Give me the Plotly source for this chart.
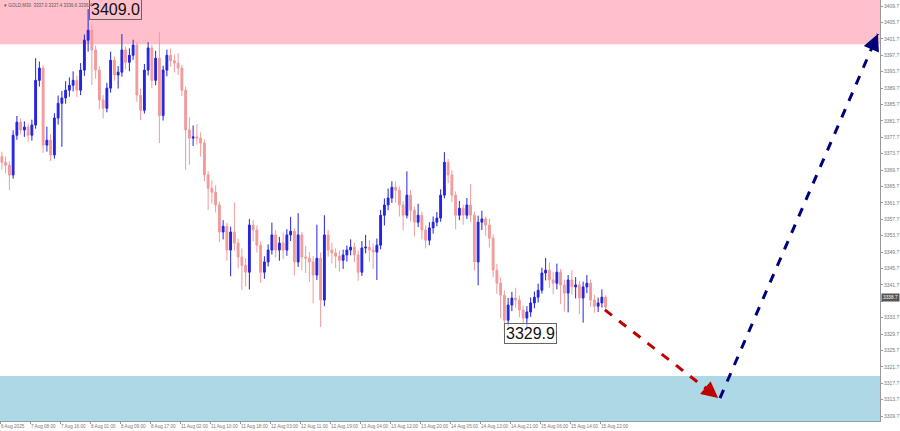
import plotly.graph_objects as go

opens = [3373.0, 3371.6, 3370.9, 3368.5, 3378.2, 3381.4, 3379.5, 3380.2, 3378.2, 3380.7,
 3391.6, 3394.6, 3375.8, 3377.0, 3373.4, 3382.4, 3386.0, 3387.3, 3389.2, 3390.4,
 3391.6, 3389.2, 3394.1, 3401.4, 3403.8, 3399.0, 3394.1, 3386.8, 3384.8, 3389.7,
 3396.5, 3392.9, 3393.6, 3399.0, 3396.0, 3397.7, 3400.2, 3388.0, 3384.3, 3394.1,
 3399.5, 3391.6, 3397.0, 3383.0, 3394.1, 3397.7, 3396.4, 3395.8, 3394.6, 3389.2,
 3379.5, 3377.5, 3377.8, 3377.5, 3376.3, 3368.5, 3365.3, 3364.3, 3361.2, 3354.6,
 3356.0, 3350.2, 3354.6, 3351.9, 3348.5, 3346.5, 3344.8, 3356.3, 3355.1, 3351.4,
 3344.8, 3347.3, 3350.2, 3353.9, 3350.2, 3351.9, 3350.2, 3353.9, 3354.8, 3347.3,
 3353.9, 3348.5, 3348.2, 3347.3, 3344.1, 3348.2, 3338.0, 3353.9, 3350.2, 3349.5,
 3348.7, 3347.7, 3349.0, 3350.2, 3350.9, 3349.0, 3344.8, 3350.7, 3350.9, 3350.2,
 3349.7, 3351.4, 3358.7, 3361.2, 3362.9, 3365.5, 3364.8, 3361.2, 3358.7, 3363.6,
 3359.9, 3357.0, 3358.7, 3355.1, 3352.6, 3355.6, 3357.0, 3358.0, 3363.6, 3371.6,
 3368.5, 3363.6, 3358.7, 3360.4, 3358.7, 3361.2, 3358.7, 3347.3, 3357.0, 3357.8,
 3356.3, 3353.1, 3345.3, 3342.1, 3339.2, 3333.1, 3336.8, 3338.5, 3338.0, 3335.6,
 3333.6, 3335.1, 3337.3, 3338.7, 3340.4, 3344.6, 3345.3, 3342.9, 3342.1, 3344.8,
 3341.7, 3339.7, 3342.9, 3341.2, 3341.7, 3338.5, 3341.2, 3342.1, 3338.0, 3336.5,
 3337.3, 3338.7]

closes = [3371.6, 3370.9, 3368.5, 3378.2, 3381.4, 3379.5, 3380.2, 3378.2, 3380.7, 3391.6,
 3394.6, 3375.8, 3377.0, 3373.4, 3382.4, 3386.0, 3387.3, 3389.2, 3390.4, 3391.6,
 3389.2, 3394.1, 3401.4, 3403.8, 3399.0, 3394.1, 3386.8, 3384.8, 3389.7, 3396.5,
 3392.9, 3393.6, 3399.0, 3396.0, 3397.7, 3400.2, 3388.0, 3384.3, 3394.1, 3399.5,
 3391.6, 3397.0, 3383.0, 3394.1, 3397.7, 3396.4, 3395.8, 3394.6, 3389.2, 3379.5,
 3377.5, 3377.8, 3377.5, 3376.3, 3368.5, 3365.3, 3364.3, 3361.2, 3354.6, 3356.0,
 3350.2, 3354.6, 3351.9, 3348.5, 3346.5, 3344.8, 3356.3, 3355.1, 3351.4, 3344.8,
 3347.3, 3350.2, 3353.9, 3350.2, 3351.9, 3350.2, 3353.9, 3354.8, 3347.3, 3353.9,
 3348.5, 3348.2, 3347.3, 3344.1, 3348.2, 3338.0, 3353.9, 3350.2, 3349.5, 3348.7,
 3347.7, 3349.0, 3350.2, 3350.9, 3349.0, 3344.8, 3350.7, 3350.9, 3350.2, 3349.7,
 3351.4, 3358.7, 3361.2, 3362.9, 3365.5, 3364.8, 3361.2, 3358.7, 3363.6, 3359.9,
 3357.0, 3358.7, 3355.1, 3352.6, 3355.6, 3357.0, 3358.0, 3363.6, 3371.6, 3368.5,
 3363.6, 3358.7, 3360.4, 3358.7, 3361.2, 3358.7, 3347.3, 3357.0, 3357.8, 3356.3,
 3353.1, 3345.3, 3342.1, 3339.2, 3333.1, 3336.8, 3338.5, 3338.0, 3335.6, 3333.6,
 3335.1, 3337.3, 3338.7, 3340.4, 3344.6, 3345.3, 3342.9, 3342.1, 3344.8, 3341.7,
 3339.7, 3342.9, 3341.2, 3341.7, 3338.5, 3341.2, 3342.1, 3338.0, 3336.5, 3337.3,
 3338.7, 3336.3]

highs = [3374.2, 3373.0, 3371.8, 3379.4, 3382.9, 3382.3, 3381.6, 3381.1, 3382.0, 3397.0,
 3396.2, 3395.3, 3380.3, 3378.5, 3383.6, 3387.9, 3389.0, 3391.4, 3392.3, 3393.8,
 3392.7, 3395.8, 3402.8, 3409.0, 3405.2, 3400.1, 3395.0, 3388.0, 3391.0, 3398.6,
 3397.4, 3395.1, 3402.9, 3399.9, 3399.4, 3401.5, 3401.0, 3389.6, 3395.6, 3400.9,
 3400.3, 3398.8, 3403.5, 3395.2, 3399.1, 3399.3, 3397.9, 3398.2, 3395.4, 3390.1,
 3382.6, 3380.6, 3380.9, 3378.9, 3377.2, 3369.4, 3367.2, 3366.0, 3362.0, 3357.5,
 3356.9, 3355.9, 3361.8, 3353.0, 3350.6, 3348.2, 3357.8, 3357.6, 3356.2, 3352.3,
 3348.7, 3351.6, 3356.9, 3355.0, 3353.4, 3354.5, 3355.3, 3358.3, 3355.5, 3359.2,
 3354.6, 3351.2, 3349.7, 3348.8, 3356.4, 3349.6, 3358.7, 3355.1, 3352.0, 3350.6,
 3350.1, 3350.3, 3351.3, 3352.8, 3352.0, 3350.1, 3352.4, 3353.9, 3352.7, 3351.8,
 3353.0, 3360.0, 3362.8, 3365.2, 3367.0, 3366.9, 3365.7, 3362.1, 3369.4, 3364.9,
 3360.8, 3361.5, 3359.6, 3356.2, 3357.0, 3358.4, 3359.5, 3365.0, 3374.1, 3372.4,
 3369.7, 3364.5, 3362.2, 3361.3, 3362.9, 3366.3, 3359.6, 3358.6, 3359.8, 3358.4,
 3357.9, 3354.0, 3346.8, 3343.5, 3340.4, 3338.5, 3340.0, 3341.0, 3339.1, 3336.7,
 3336.5, 3338.6, 3340.1, 3342.0, 3345.9, 3348.3, 3347.2, 3344.8, 3346.9, 3345.6,
 3343.0, 3344.1, 3345.3, 3343.6, 3342.6, 3342.5, 3344.1, 3343.0, 3339.3, 3338.6,
 3340.6, 3339.2]

lows = [3369.8, 3368.9, 3364.8, 3367.6, 3377.1, 3378.4, 3377.8, 3376.6, 3376.9, 3379.8,
 3390.1, 3373.9, 3374.2, 3371.9, 3372.5, 3380.8, 3375.4, 3385.9, 3387.6, 3388.9,
 3387.5, 3388.0, 3392.7, 3398.6, 3390.5, 3392.0, 3384.5, 3382.3, 3383.8, 3388.6,
 3391.5, 3389.6, 3392.5, 3394.3, 3393.8, 3396.6, 3386.4, 3381.9, 3383.5, 3392.8,
 3389.7, 3390.4, 3376.3, 3381.8, 3392.6, 3394.9, 3393.5, 3392.9, 3387.8, 3369.8,
 3371.0, 3375.6, 3375.9, 3373.0, 3367.0, 3360.0, 3361.5, 3359.4, 3352.1, 3352.8,
 3347.6, 3343.8, 3350.1, 3345.7, 3340.5, 3341.3, 3340.6, 3352.4, 3349.6, 3342.2,
 3343.2, 3346.2, 3349.1, 3348.4, 3347.6, 3348.0, 3348.8, 3352.4, 3344.0, 3346.1,
 3345.3, 3344.6, 3342.4, 3337.2, 3342.9, 3331.4, 3336.5, 3348.6, 3346.9, 3345.8,
 3344.9, 3345.6, 3347.4, 3348.9, 3347.2, 3342.7, 3343.9, 3349.4, 3347.3, 3345.6,
 3342.9, 3350.4, 3356.2, 3359.9, 3361.7, 3361.8, 3358.4, 3355.0, 3357.9, 3357.2,
 3353.5, 3355.8, 3352.8, 3350.6, 3351.4, 3354.2, 3356.0, 3357.1, 3362.8, 3366.5,
 3361.9, 3355.3, 3357.5, 3356.4, 3357.8, 3357.1, 3345.2, 3341.6, 3355.1, 3353.7,
 3350.8, 3343.6, 3339.5, 3333.6, 3329.9, 3331.6, 3335.3, 3336.1, 3333.8, 3331.5,
 3331.2, 3333.9, 3336.0, 3337.4, 3339.6, 3342.8, 3341.0, 3339.4, 3340.6, 3337.0,
 3335.2, 3335.0, 3339.3, 3338.4, 3334.6, 3332.5, 3339.7, 3336.4, 3334.9, 3335.1,
 3336.2, 3335.6]

bar_index = list(range(len(closes)))

time_labels = ["6 Aug 2025", "7 Aug 08:00", "7 Aug 16:00", "8 Aug 01:00", "8 Aug 09:00",
               "8 Aug 17:00", "11 Aug 02:00", "11 Aug 10:00", "11 Aug 18:00", "12 Aug 03:00",
               "12 Aug 11:00", "12 Aug 19:00", "13 Aug 04:00", "13 Aug 12:00", "13 Aug 20:00",
               "14 Aug 05:00", "14 Aug 13:00", "14 Aug 21:00", "15 Aug 06:00", "15 Aug 14:00",
               "15 Aug 22:00"]
time_label_bars = [-0.5 + 8 * k for k in range(len(time_labels))]

price_ticks = [3309.7 + 4 * k for k in range(26)]
current_price = 3338.7
# the tick hidden under the current-price box in the reference is left blank
price_tick_text = ["" if abs(v - 3337.7) < 0.01 else f"{v:.1f}" for v in price_ticks]

sell_zone = [3400.4, 3415.0]
buy_zone = [3300.0, 3319.5]

forecast_down_x = [160.8, 191.0]
forecast_down_y = [3335.6, 3314.1]
forecast_up_x = [191.5, 233.6]
forecast_up_y = [3314.1, 3402.9]

high_label = 3409.0
low_label = 3329.9

fig = go.Figure()

fig.add_trace(go.Candlestick(
    x=bar_index, open=opens, high=highs, low=lows, close=closes,
    increasing=dict(line=dict(color="#2424e0", width=1), fillcolor="#2424e0"),
    decreasing=dict(line=dict(color="#f29a9a", width=1), fillcolor="#f29a9a"),
    whiskerwidth=0, showlegend=False, hoverinfo="skip"))

fig.add_trace(go.Scatter(x=forecast_down_x, y=forecast_down_y, mode="lines",
                         line=dict(color="#c00000", width=3, dash="dash"),
                         showlegend=False, hoverinfo="skip"))
fig.add_trace(go.Scatter(x=forecast_up_x, y=forecast_up_y, mode="lines",
                         line=dict(color="#00007a", width=3, dash="dash"),
                         showlegend=False, hoverinfo="skip"))

shapes = [
    dict(type="rect", xref="paper", x0=0, x1=1, yref="y", y0=sell_zone[0], y1=sell_zone[1],
         fillcolor="#ffc0cb", line=dict(width=0), layer="below"),
    dict(type="rect", xref="paper", x0=0, x1=1, yref="y", y0=buy_zone[0], y1=buy_zone[1],
         fillcolor="#add8e6", line=dict(width=0), layer="below"),
]

annotations = [
    dict(x=forecast_down_x[1], y=forecast_down_y[1], ax=forecast_down_x[1] - 4, ay=forecast_down_y[1] + 3,
         xref="x", yref="y", axref="x", ayref="y", showarrow=True, arrowhead=2, arrowsize=1.1,
         arrowwidth=3, arrowcolor="#c00000", text=""),
    dict(x=forecast_up_x[1], y=forecast_up_y[1], ax=forecast_up_x[1] - 1.6, ay=forecast_up_y[1] - 3.4,
         xref="x", yref="y", axref="x", ayref="y", showarrow=True, arrowhead=2, arrowsize=1.1,
         arrowwidth=3, arrowcolor="#00007a", text=""),
    dict(x=23.3, y=high_label, xref="x", yref="y", text=f"{high_label:.1f}", showarrow=False,
         xanchor="left", yanchor="middle", font=dict(family="Arial, Liberation Sans", size=16, color="#111"),
         bordercolor="#666", borderwidth=1, borderpad=1, bgcolor="rgba(255,255,255,0)"),
    dict(x=133.8, y=low_label, xref="x", yref="y", text=f"{low_label:.1f}", showarrow=False,
         xanchor="left", yanchor="middle", font=dict(family="Arial, Liberation Sans", size=16, color="#111"),
         bordercolor="#666", borderwidth=1, borderpad=1, bgcolor="rgba(255,255,255,0.6)"),
    dict(x=1.0, y=current_price, xref="paper", yref="y", text=f"{current_price:.1f}", showarrow=False,
         xanchor="left", yanchor="middle", xshift=1, font=dict(family="Arial", size=4.8, color="#ffffff"),
         bgcolor="#555555", borderpad=1),
    dict(x=0.002, y=0.998, xref="paper", yref="paper", text="▾ GOLD,M30  3337.0 3337.4 3336.6 3336.4",
         showarrow=False, xanchor="left", yanchor="top", font=dict(family="Arial", size=4.5, color="#555")),
]

fig.update_layout(
    width=900, height=431,
    margin=dict(l=0, r=20, t=0, b=10, autoexpand=False),
    paper_bgcolor="white", plot_bgcolor="white",
    shapes=shapes, annotations=annotations,
    xaxis=dict(range=[-0.5, -0.5 + 880 / 3.75], rangeslider=dict(visible=False), automargin=False,
               tickmode="array", tickvals=time_label_bars, ticktext=time_labels, tickangle=0,
               ticklabelposition="outside right", ticks="outside", ticklen=2, tickcolor="#999",
               tickfont=dict(family="Arial", size=4.6, color="#777"),
               showgrid=False, zeroline=False, showline=True, linecolor="#999", linewidth=1, mirror=True),
    yaxis=dict(range=[3308.5, 3411.2], side="right", tickmode="array", tickvals=price_ticks,
               ticktext=price_tick_text, ticks="outside", ticklen=2, tickcolor="#999", automargin=False,
               tickfont=dict(family="Arial", size=5, color="#777"),
               showgrid=False, zeroline=False, showline=True, linecolor="#999", linewidth=1),
)

fig.write_html("out.html", config={"displayModeBar": False},
               post_script="document.body.style.margin='0';document.body.style.overflow='hidden';")
